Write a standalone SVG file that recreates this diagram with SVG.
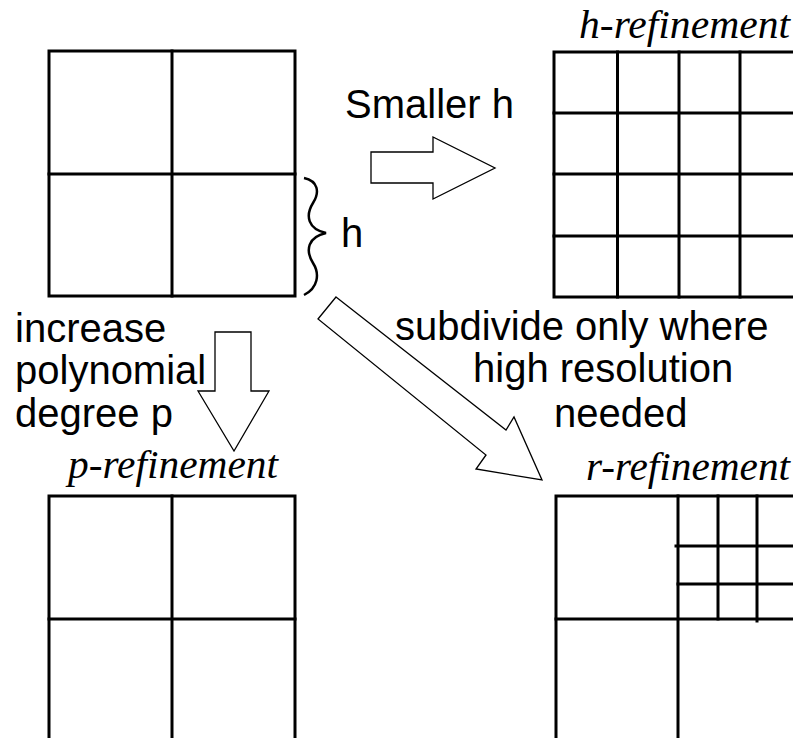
<svg xmlns="http://www.w3.org/2000/svg" width="793" height="738" viewBox="0 0 793 738">
<style>
.grid{fill:none;stroke:#000;stroke-width:3;stroke-linecap:square}
.arrow{fill:#fff;stroke:#000;stroke-width:1.3;stroke-linejoin:miter}
.lbl{font-family:"Liberation Sans",Arial,sans-serif;font-size:40px;fill:#000}
.ttl{font-family:"Liberation Serif","Times New Roman",serif;font-style:italic;font-size:39px;fill:#000}
</style>
<rect width="793" height="738" fill="#fff"/>
<g id="coarse-mesh">
<rect class="grid" x="49" y="51" width="246" height="245"/>
<line class="grid" x1="172" y1="51" x2="172" y2="296"/>
<line class="grid" x1="49" y1="174" x2="295" y2="174"/>
<path d="M304,178 C318,181 320,192 313,203 C305,216 308,229 326,233 C308,237 305,250 313,263 C320,274 318,288 304,295" fill="none" stroke="#000" stroke-width="2.5"/>
<text class="lbl" x="341" y="247">h</text>
</g>
<g id="h-refinement">
<text class="ttl" x="579" y="38" textLength="211" lengthAdjust="spacingAndGlyphs">h-refinement</text>
<rect class="grid" x="554" y="52" width="246" height="245"/>
<line class="grid" x1="617.5" y1="52" x2="617.5" y2="297"/>
<line class="grid" x1="679" y1="52" x2="679" y2="297"/>
<line class="grid" x1="740" y1="52" x2="740" y2="297"/>
<line class="grid" x1="554" y1="113" x2="800" y2="113"/>
<line class="grid" x1="554" y1="174" x2="800" y2="174"/>
<line class="grid" x1="554" y1="236" x2="800" y2="236"/>
</g>
<g id="p-refinement">
<text class="ttl" x="68" y="478" textLength="210" lengthAdjust="spacingAndGlyphs">p-refinement</text>
<rect class="grid" x="49" y="496" width="246" height="245"/>
<line class="grid" x1="172" y1="496" x2="172" y2="741"/>
<line class="grid" x1="49" y1="619" x2="295" y2="619"/>
</g>
<g id="r-refinement">
<text class="ttl" x="586" y="480" textLength="204" lengthAdjust="spacingAndGlyphs">r-refinement</text>
<rect class="grid" x="556" y="496" width="246" height="245"/>
<line class="grid" x1="678" y1="496" x2="678" y2="741"/>
<line class="grid" x1="556" y1="619" x2="802" y2="619"/>
<line class="grid" x1="718" y1="496" x2="718" y2="619"/>
<line class="grid" x1="757" y1="496" x2="757" y2="621"/>
<line class="grid" x1="676" y1="546" x2="802" y2="546"/>
<line class="grid" x1="678" y1="584" x2="802" y2="584"/>
</g>
<g id="connectors">
<polygon class="arrow" points="371,152 433,152 433,137 495,168 433,199 433,183 371,183"/>
<polygon class="arrow" points="215,332 251,332 251,391 269,391 234,451 198,391 215,391"/>
<polygon class="arrow" points="336,297 506,430 514,417 542,480 476,469 486,455 318,319"/>
<text class="lbl" x="345" y="118">Smaller h</text>
<text class="lbl" x="15" y="342">increase</text>
<text class="lbl" x="15" y="384">polynomial</text>
<text class="lbl" x="15" y="427">degree p</text>
<text class="lbl" x="395" y="340">subdivide only where</text>
<text class="lbl" x="473" y="382">high resolution</text>
<text class="lbl" x="554" y="427">needed</text>
</g>
</svg>
